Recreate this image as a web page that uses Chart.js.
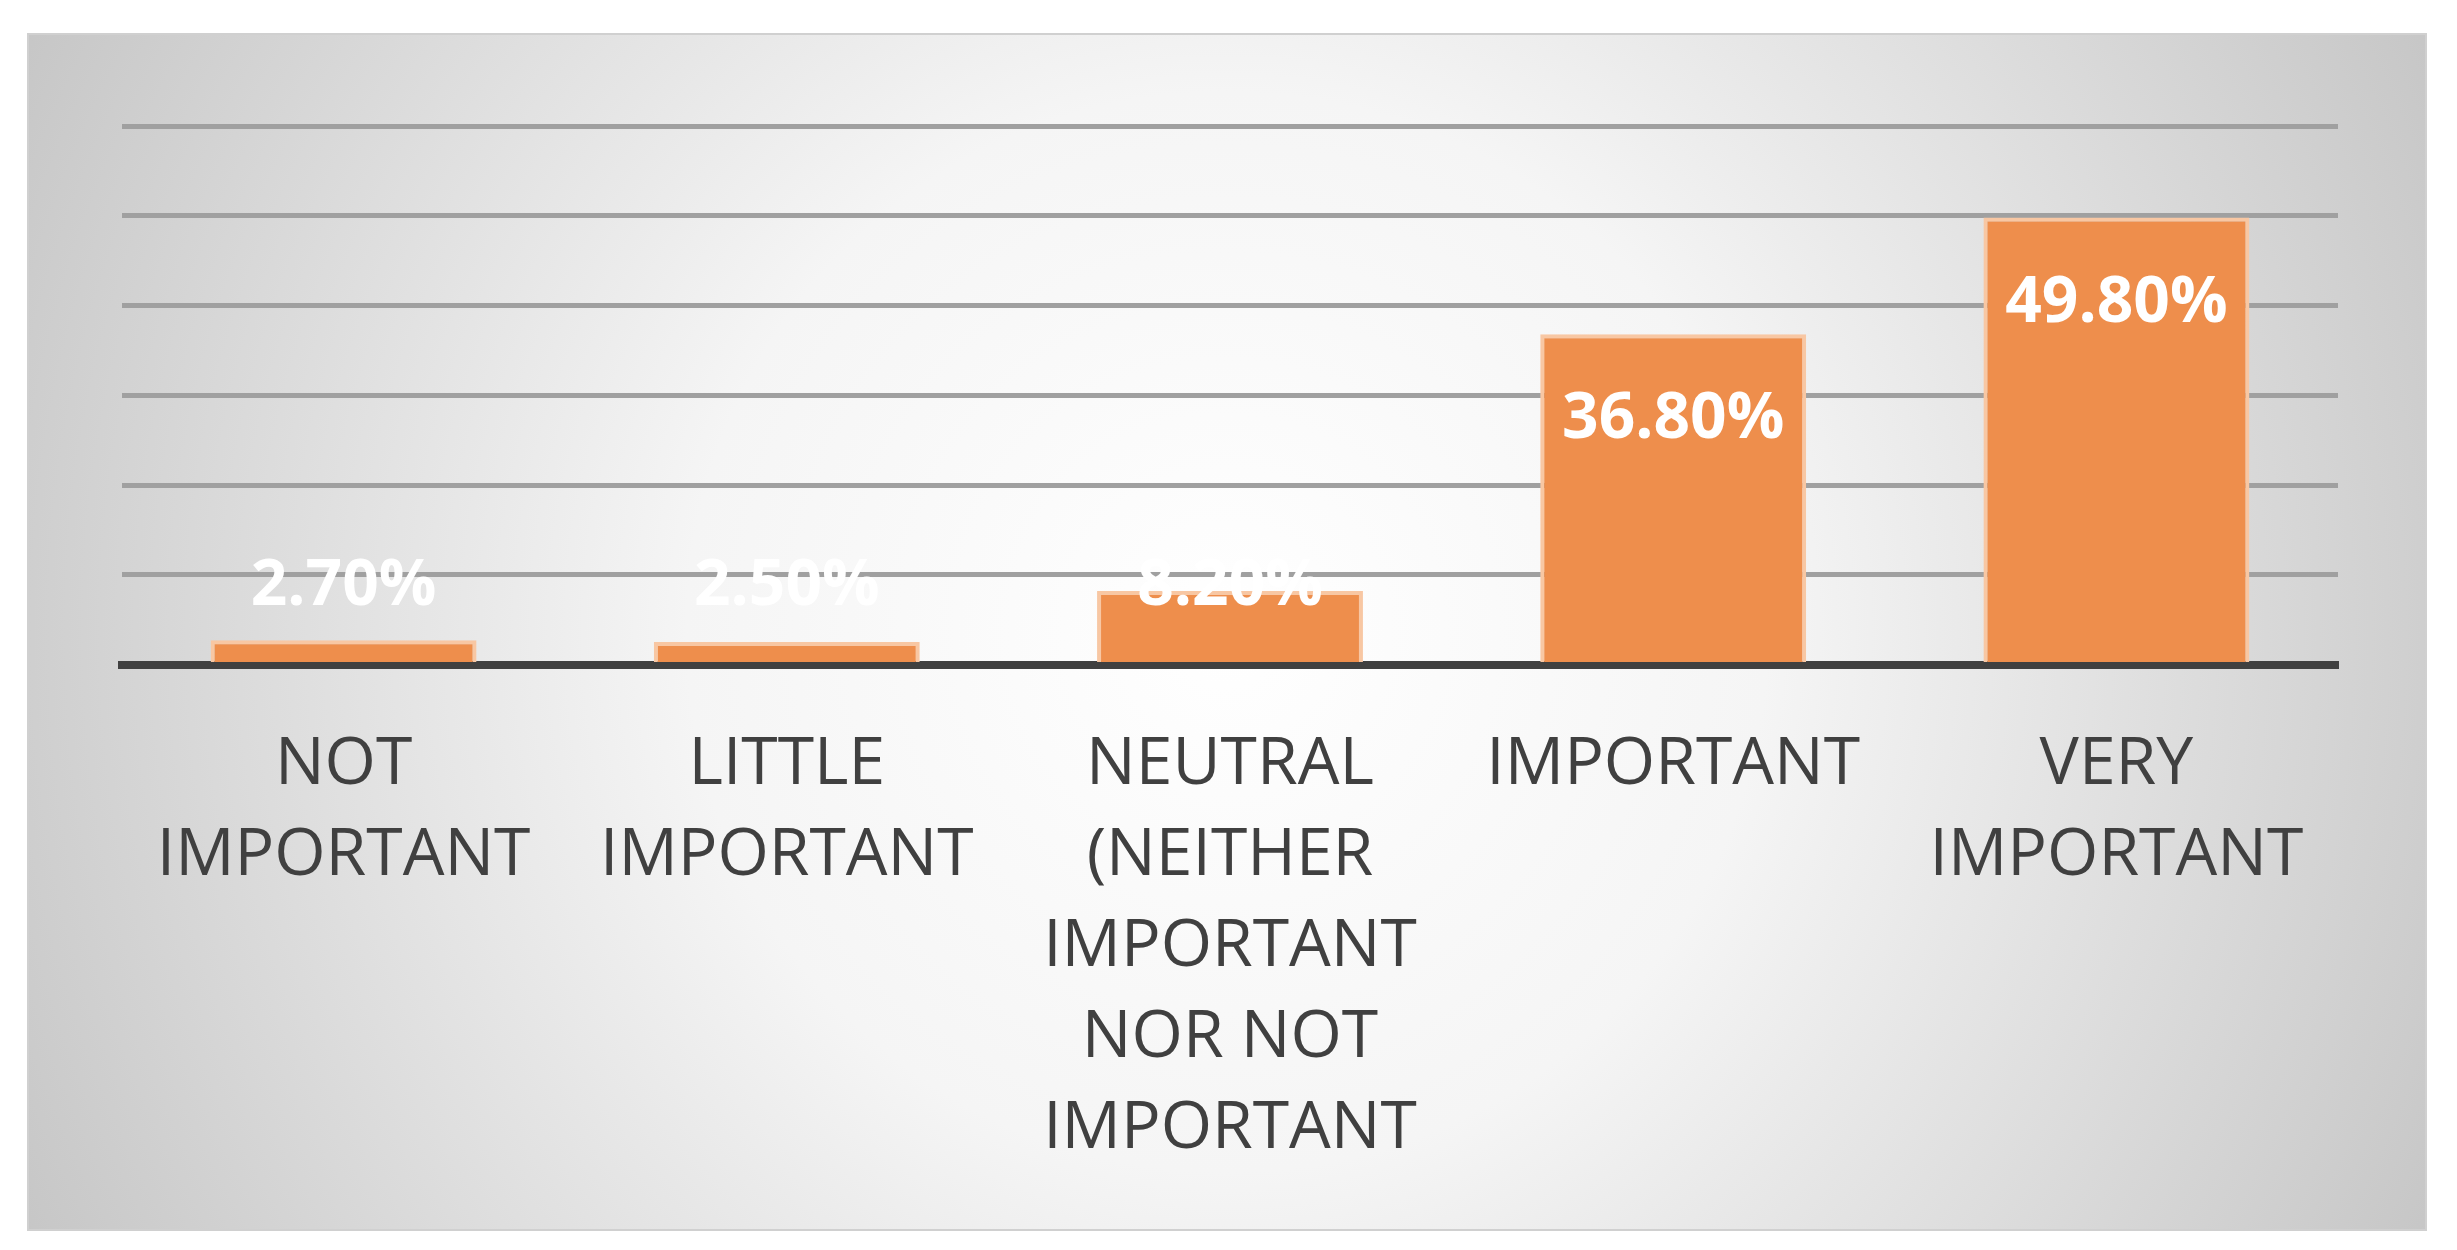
<!DOCTYPE html>
<html><head><meta charset="utf-8">
<script src="https://cdn.jsdelivr.net/npm/chart.js@4"></script>
<style>html,body{margin:0;padding:0;background:#fff}#w{width:2457px;height:1250px}</style>
</head><body><div id="w"><canvas id="c"></canvas></div>
<script>
const categories = [["NOT","IMPORTANT"],["LITTLE","IMPORTANT"],["NEUTRAL","(NEITHER","IMPORTANT","NOR NOT","IMPORTANT"],["IMPORTANT"],["VERY","IMPORTANT"]];
const values = [2.7, 2.5, 8.2, 36.8, 49.8];
const valueLabels = ["2.70%","2.50%","8.20%","36.80%","49.80%"];

const bgPlugin = {
  id:'bg',
  beforeDraw(chart){
    const ctx = chart.ctx, W = chart.width, H = chart.height;
    ctx.save();
    ctx.fillStyle = '#fff'; ctx.fillRect(0,0,W,H);
    const x0=28,y0=34,x1=2426,y1=1230;
    const g = ctx.createRadialGradient((x0+x1)/2,(y0+y1)/2,0,(x0+x1)/2,(y0+y1)/2,1350);
    g.addColorStop(0,'#ffffff'); g.addColorStop(0.4,'#f5f5f5'); g.addColorStop(1,'#c6c6c6');
    ctx.fillStyle = g; ctx.fillRect(x0,y0,x1-x0,y1-y0);
    ctx.strokeStyle = '#d0d0d0'; ctx.lineWidth = 2; ctx.strokeRect(x0,y0,x1-x0,y1-y0);
    ctx.restore();
  }
};
const labelPlugin = {
  id:'vl',
  afterDatasetsDraw(chart){
    const ctx = chart.ctx, meta = chart.getDatasetMeta(0), base = chart.scales.y.getPixelForValue(0);
    ctx.save();
    ctx.font = 'bold 64px "Open Sans", sans-serif';
    ctx.fillStyle = '#fff'; ctx.textAlign = 'center'; ctx.textBaseline = 'middle';
    meta.data.forEach((b,i)=>{
      const y = Math.min(b.y + 86, base - 78);
      ctx.fillText(valueLabels[i], b.x, y);
    });
    ctx.restore();
  }
};
new Chart(document.getElementById('c'), {
  type:'bar',
  data:{labels:categories, datasets:[{data:values, backgroundColor:'#ee8e4c', borderColor:'#f8c7a3', borderWidth:4, borderSkipped:'bottom', barPercentage:0.6, categoryPercentage:1}]},
  options:{
    responsive:true, maintainAspectRatio:false, animation:false,
    layout:{padding:{left:122,right:119,top:126,bottom:47}},
    plugins:{legend:{display:false},tooltip:{enabled:false}},
    scales:{
      x:{grid:{display:false,drawTicks:false},border:{display:true,color:'#404040',width:8},
         ticks:{color:'#404040',padding:55,maxRotation:0,autoSkip:false,font:{family:'"Open Sans", sans-serif',size:66,lineHeight:1.38}}},
      y:{min:0,max:60,ticks:{display:false,stepSize:10},grid:{color:'#a0a0a0',lineWidth:5,drawTicks:false},border:{display:false}}
    }
  },
  plugins:[bgPlugin,labelPlugin]
});
</script></body></html>
